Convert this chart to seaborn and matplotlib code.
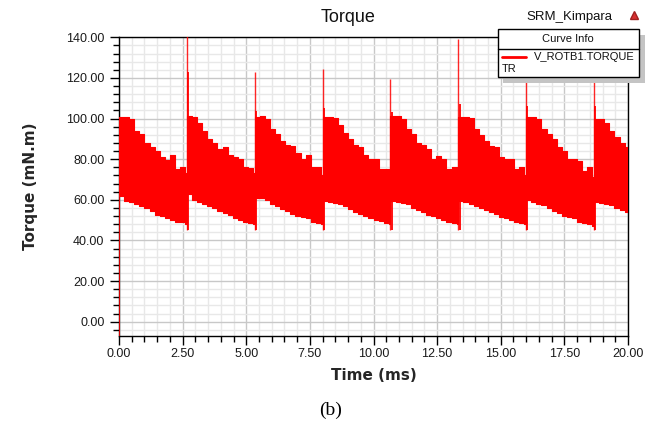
import matplotlib
matplotlib.use("Agg")
import numpy as np
import pandas as pd
import matplotlib.pyplot as plt
import seaborn as sns
from matplotlib.ticker import MultipleLocator, FormatStrFormatter
from matplotlib.lines import Line2D
from matplotlib.patches import Rectangle

# ---------------- data ----------------
period_start_ms = [0.0, 2.667, 5.333, 8.0, 10.667, 13.333, 16.0, 18.667]
phase_ms = [0.0, 0.2, 0.4, 0.6, 0.8, 1.0, 1.2, 1.4, 1.6, 1.8, 2.0, 2.2, 2.4, 2.6]
end_time_ms = 20.0

upper_p1 = [101, 101, 100, 94, 92.5, 88, 86, 84, 81, 79.5, 82, 75, 76, 73]
lower_p1 = [62, 59.5, 59, 58, 57, 56, 54.5, 52.5, 52, 51, 50, 49, 49, 48]
upper_p2 = [101.5, 101, 98, 94, 90, 88, 85, 86, 82, 81, 80, 76, 75.5, 73]
lower_p2 = [63, 60, 59, 58, 57, 56, 54.5, 53.5, 52.5, 51, 50, 49, 48.5, 48]
upper_p3 = [101, 101.5, 100, 95, 92.5, 89, 87, 86.5, 83, 80, 82, 76, 76, 72]
lower_p3 = [61, 61, 60, 58, 57, 55.5, 54.5, 53, 52, 51.5, 51, 49, 48.5, 48]
upper_p4 = [101, 101, 100.5, 97, 93, 90, 87, 86, 82, 80, 80, 75, 75, 71]
lower_p4 = [59.5, 59, 58.5, 58, 57, 55.5, 54, 53, 52, 51, 50, 49.5, 48.5, 48]
upper_p5 = [101.5, 101.5, 100, 95, 92.5, 88, 87, 85, 80, 81.5, 80, 75, 76, 71]
lower_p5 = [59.5, 59, 58.5, 58, 56, 55, 54, 52.5, 52, 51, 50, 49, 48.5, 48]
upper_p6 = [101, 101, 100.5, 95, 92, 89, 86.5, 86, 81, 80, 80, 75, 76, 72]
lower_p6 = [59.5, 59, 58, 57, 56, 55, 54, 53, 51.5, 51, 50, 49, 48.5, 48]
upper_p7 = [101, 101, 100, 95, 92.5, 90, 86, 84, 80, 80, 79, 74, 76, 71]
lower_p7 = [60, 59, 58, 57.5, 56, 54.5, 53.5, 52, 51.5, 51, 49, 48.5, 48, 47]
upper_p8 = [100, 100, 98, 94, 91, 88, 86]
lower_p8 = [59, 58.5, 58, 57.5, 56, 55, 54]

spike_time_ms = [2.667, 5.333, 8.0, 10.667, 13.333, 16.0, 18.667]
spike_peak = [150, 123, 124.5, 119.5, 139, 135, 135]
spike_second_peak = [123, 103.5, 105, 103, 107, 106, 106]
spike_base = 45
start_value = -8

uppers = [upper_p1, upper_p2, upper_p3, upper_p4, upper_p5, upper_p6, upper_p7, upper_p8]
lowers = [lower_p1, lower_p2, lower_p3, lower_p4, lower_p5, lower_p6, lower_p7, lower_p8]

rows = []
for s, up, lo in zip(period_start_ms, uppers, lowers):
    for ph, u, l in zip(phase_ms, up, lo):
        rows.append((s + ph, u, l))
rows.append((end_time_ms, upper_p8[-1], lower_p8[-1]))
df = pd.DataFrame(rows, columns=["time", "upper", "lower"])

# ---------------- figure ----------------
sns.set_theme(style="white")
plt.rcParams["font.family"] = ["Liberation Sans", "DejaVu Sans"]

W, H = 651, 424
fig = plt.figure(figsize=(W / 100, H / 100), dpi=100)
fig.patch.set_facecolor("white")

def fx(x):
    return x / W

def fy(y):
    return 1 - y / H

L, R, T, B = 119, 628, 37.3, 336
ax = fig.add_axes([fx(L), fy(B), (R - L) / W, (B - T) / H])
ax.set_facecolor("white")

red = "#ff0000"
ax.fill_between(df["time"], df["lower"], df["upper"], step="post",
                color=red, linewidth=0, zorder=3)
sns.lineplot(data=df, x="time", y="upper", drawstyle="steps-post",
             color=red, linewidth=0.8, ax=ax, zorder=3)
sns.lineplot(data=df, x="time", y="lower", drawstyle="steps-post",
             color=red, linewidth=0.8, ax=ax, zorder=3)

ax.vlines(spike_time_ms, spike_base, spike_peak, color=red, linewidth=1.0,
          alpha=0.85, zorder=4)
ax.vlines([t + 0.05 for t in spike_time_ms], spike_base, spike_second_peak,
          color=red, linewidth=1.3, zorder=4)
ax.vlines([period_start_ms[0]], start_value, upper_p1[0], color=red,
          linewidth=1.2, zorder=4)

ax.set_xlim(0, 20)
ax.set_ylim(-7.04, 140)

ax.xaxis.set_major_locator(MultipleLocator(2.5))
ax.xaxis.set_minor_locator(MultipleLocator(0.5))
ax.yaxis.set_major_locator(MultipleLocator(20))
ax.yaxis.set_minor_locator(MultipleLocator(4))
ax.xaxis.set_major_formatter(FormatStrFormatter("%.2f"))
ax.yaxis.set_major_formatter(FormatStrFormatter("%.2f"))

ax.grid(which="major", color="#c8c8c8", linewidth=1.0, zorder=0)
ax.grid(which="minor", color="#e8e8e8", linewidth=1.0, zorder=0)
ax.set_axisbelow(True)

ax.tick_params(axis="both", which="major", direction="out", length=6.5,
               width=1.0, color="black", labelsize=9, labelcolor="#1a1a1a",
               left=True, bottom=True, pad=2)
ax.tick_params(axis="both", which="minor", direction="out", length=4,
               width=1.0, color="black", left=True, bottom=True)
ax.tick_params(axis="y", which="major", pad=4)

for sp in ax.spines.values():
    sp.set_visible(True)
    sp.set_color("black")
    sp.set_linewidth(1.0)

ax.set_xlabel("Time (ms)", fontsize=11, fontweight="bold",
              family=["DejaVu Sans"], labelpad=6)
ax.set_ylabel("Torque (mN.m)", fontsize=11, fontweight="bold",
              family=["DejaVu Sans"], labelpad=20)

# title and header texts
fig.text(fx(348), fy(18), "Torque", ha="center", va="center", fontsize=13,
         color="#111111")
fig.text(fx(569), fy(17), "SRM_Kimpara", ha="center", va="center",
         fontsize=9.5, color="#111111")
fig.add_artist(Line2D([fx(634)], [fy(15)], marker="^", markersize=6,
                      color="#d83030", markeredgecolor="#a02020",
                      transform=fig.transFigure))

# legend box ("Curve Info")
fig.add_artist(Rectangle((fx(503), fy(83)), (142) / W, (48) / H,
                         transform=fig.transFigure, facecolor="#c4c4c4",
                         edgecolor="none", zorder=10))
fig.add_artist(Rectangle((fx(497.5), fy(77.3)), (141) / W, (48) / H,
                         transform=fig.transFigure, facecolor="white",
                         edgecolor="black", linewidth=1.0, zorder=11))
fig.add_artist(Line2D([fx(497.5), fx(638.5)], [fy(48.7), fy(48.7)],
                      color="black", linewidth=1.0,
                      transform=fig.transFigure, zorder=12))
fig.text(fx(568), fy(39), "Curve Info", ha="center", va="center",
         fontsize=8, color="#111111", zorder=12)
fig.add_artist(Line2D([fx(502), fx(526)], [fy(57), fy(57)], color=red,
                      linewidth=2.0, transform=fig.transFigure, zorder=12))
fig.text(fx(534), fy(57.5), "V_ROTB1.TORQUE", ha="left", va="center",
         fontsize=8, color="#111111", zorder=12)
fig.text(fx(502), fy(69.5), "TR", ha="left", va="center",
         fontsize=8, color="#111111", zorder=12)

# caption
fig.text(fx(331), fy(410), "(b)", ha="center", va="center", fontsize=14,
         family=["Liberation Serif"], color="black")

fig.savefig("out.png", dpi=100, facecolor="white")
